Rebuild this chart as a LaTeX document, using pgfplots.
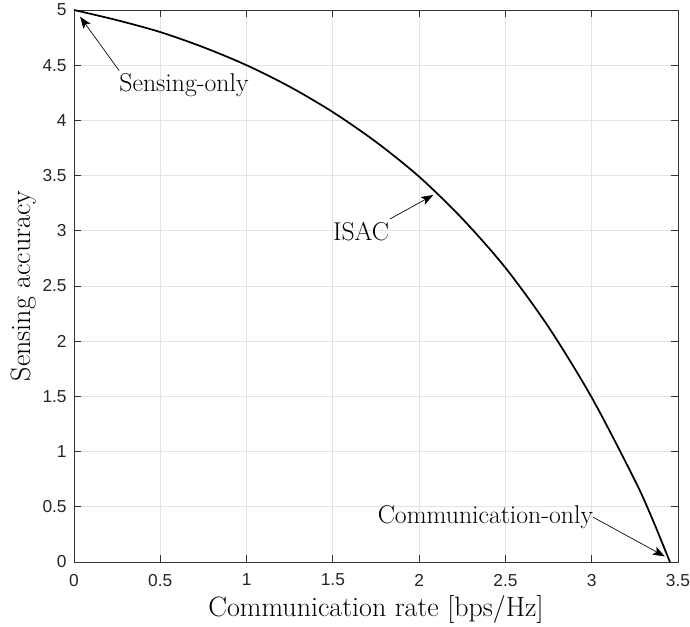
\documentclass[border=0pt]{standalone}
\usepackage{pgfplots}
\pgfplotsset{compat=1.18}
\usepackage{fontspec}
\usetikzlibrary{arrows.meta}
\newfontfamily\tickfont{Liberation Sans}

\definecolor{axcol}{HTML}{333333}
\definecolor{gridcol}{HTML}{E3E3E3}

% Rate--accuracy trade-off curve
\pgfplotstableread{
rate   acc
0.000  5.000
0.250  4.9075
0.500  4.800
0.750  4.6625
1.000  4.500
1.250  4.305
1.500  4.075
1.750  3.805
2.000  3.490
2.250  3.110
2.500  2.665
2.750  2.1275
3.000  1.490
3.250  0.740
3.350  0.395
3.453  0.000
}\tradeoff

\begin{document}
\begin{tikzpicture}
\begin{axis}[
  name=ax,
  scale only axis,
  width=453pt, height=414pt,
  xmin=0, xmax=3.5, ymin=0, ymax=5,
  xtick={0,0.5,...,3.5},
  ytick={0,0.5,...,5},
  xticklabels={0,0.5,1,1.5,2,2.5,3,3.5},
  yticklabels={0,0.5,1,1.5,2,2.5,3,3.5,4,4.5,5},
  tick align=inside,
  major tick length=5pt,
  tick style={axcol, line width=0.6pt},
  axis line style={axcol, line width=0.6pt},
  grid=major,
  major grid style={gridcol, line width=0.6pt},
  tick label style={font=\tickfont\fontsize{13}{15}\selectfont, text=black!85},
  xticklabel style={yshift=-5.5pt},
  yticklabel style={xshift=-2pt},
  label style={font=\fontsize{21}{25}\selectfont},
  xlabel={Communication rate [bps/Hz]},
  ylabel={Sensing accuracy},
  xlabel style={yshift=0pt},
  ylabel style={yshift=-2pt},
  clip=false,
]
\addplot[black, line width=1.3pt, smooth, tension=0.5] table[x=rate, y=acc] {\tradeoff};

\begin{scope}[font=\fontsize{19.3}{23}\selectfont]
  \node[anchor=west, inner sep=0pt] at (axis cs:0.262,4.32) {Sensing-only};
  \draw[-{Stealth[length=9pt,width=6.5pt,inset=2pt]}, line width=0.5pt]
    (axis cs:0.262,4.45) -- (axis cs:0.035,4.94);
  \node[anchor=west, inner sep=0pt] at (axis cs:1.50,2.99) {ISAC};
  \draw[-{Stealth[length=9pt,width=6.5pt,inset=2pt]}, line width=0.5pt]
    (axis cs:1.831,3.107) -- (axis cs:2.082,3.324);
  \node[anchor=east, inner sep=0pt] at (axis cs:3.009,0.405) {Communication-only};
  \draw[-{Stealth[length=9pt,width=6.5pt,inset=2pt]}, line width=0.5pt]
    (axis cs:3.009,0.405) -- (axis cs:3.424,0.05);
\end{scope}
\end{axis}
\pgfresetboundingbox
\path[use as bounding box] ([xshift=-55.5pt,yshift=-48pt]ax.south west)
  rectangle ([xshift=9pt,yshift=7.5pt]ax.north east);
\end{tikzpicture}
\end{document}
